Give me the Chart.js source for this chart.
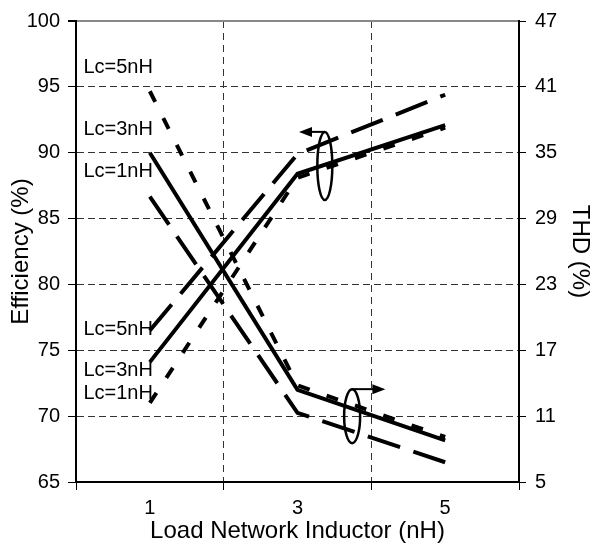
<!DOCTYPE html>
<html>
<head>
<meta charset="utf-8">
<script src="https://cdn.jsdelivr.net/npm/chart.js@4.4.0/dist/chart.umd.min.js"></script>
<style>
body { margin: 0; background: #fff; }
#wrap { width: 596px; height: 552px; }
</style>
</head>
<body>
<div id="wrap"><canvas id="myChart" width="596" height="552"></canvas></div>
<script>
// x positions (nH) and the values
const inductor = [1, 3, 5]
const effLc5 = [76.5, 89.9, 94.4]
const effLc3 = [74.1, 88.4, 92.1]
const effLc1 = [71.0, 88.1, 91.9]
const thdLc5 = [40.6, 13.8, 9.1]
const thdLc3 = [35.0, 13.4, 8.8]
const thdLc1 = [31.0, 11.3, 6.8]

const xTickLabels = [1, 3, 5]
const effTicks = [65, 70, 75, 80, 85, 90, 95, 100]
const thdTicks = [5, 11, 17, 23, 29, 35, 41, 47]

// curve names written in the plot (left efficiency scale)
const curveNames = ['Lc=5nH', 'Lc=3nH', 'Lc=1nH', 'Lc=5nH', 'Lc=3nH', 'Lc=1nH']
const curveNameY = [96.5, 91.8, 88.6, 76.6, 73.5, 71.7]
const curveNameX = 0.1

const FONT = '"Liberation Sans", Arial, sans-serif'
const longDash = [34, 14]
const shortDash = [12, 18]

function pts(vals) {
    return vals.map((v, i) => ({ x: inductor[i], y: v }))
}

function line(vals, dash, axis) {
    return {
        data: pts(vals),
        borderColor: '#000',
        borderWidth: 4,
        borderDash: dash,
        pointRadius: 0,
        tension: 0,
        fill: false,
        yAxisID: axis
    }
}

const notes = {
    id: 'notes',
    afterDatasetsDraw(chart) {
        const ctx = chart.ctx
        const x = chart.scales.x
        const y = chart.scales.y
        ctx.save()
        ctx.fillStyle = '#000'
        ctx.font = '20px ' + FONT
        ctx.textBaseline = 'middle'
        ctx.textAlign = 'left'
        curveNames.forEach((t, i) => {
            ctx.fillText(t, x.getPixelForValue(curveNameX), y.getPixelForValue(curveNameY[i]))
        })

        // rings with arrows: efficiency -> left axis, THD -> right axis
        const ring = (cx, cy, rx, ry, tipX) => {
            const px = x.getPixelForValue(cx)
            const py = y.getPixelForValue(cy)
            ctx.strokeStyle = '#000'
            ctx.lineWidth = 2.5
            ctx.beginPath()
            ctx.ellipse(px, py, rx, ry, 0, 0, Math.PI * 2)
            ctx.stroke()
            const ay = py - ry
            const tx = x.getPixelForValue(tipX)
            const dir = tx < px ? -1 : 1
            ctx.lineWidth = 2
            ctx.beginPath()
            ctx.moveTo(px, ay)
            ctx.lineTo(tx - dir * 10, ay)
            ctx.stroke()
            ctx.beginPath()
            ctx.moveTo(tx, ay)
            ctx.lineTo(tx - dir * 13, ay - 5)
            ctx.lineTo(tx - dir * 13, ay + 5)
            ctx.closePath()
            ctx.fill()
        }
        ring(3.37, 89.0, 7.5, 34, 3.02)
        ring(3.74, 70.0, 8, 27, 4.19)
        ctx.restore()
    }
}

const chart = document.getElementById('myChart')
const myChart = new Chart(chart, {
    type: 'line',
    data: {
        datasets: [
            line(effLc5, longDash, 'y'),
            line(effLc3, [], 'y'),
            line(effLc1, shortDash, 'y'),
            line(thdLc5, shortDash, 'y1'),
            line(thdLc3, [], 'y1'),
            line(thdLc1, longDash, 'y1')
        ]
    },
    options: {
        responsive: false,
        animation: false,
        layout: { padding: { top: 16, left: 0, right: 0, bottom: 0 } },
        plugins: { legend: { display: false }, tooltip: { enabled: false } },
        scales: {
            x: {
                type: 'linear',
                min: 0,
                max: 6,
                afterFit: s => { s.height = 70 },
                afterBuildTicks: s => { s.ticks = [0, 1, 2, 3, 4, 5, 6].map(v => ({ value: v })) },
                ticks: {
                    color: '#000',
                    font: { family: FONT, size: 20 },
                    padding: 6,
                    maxRotation: 0,
                    autoSkip: false,
                    callback: v => xTickLabels.includes(v) ? String(v) : ''
                },
                grid: {
                    color: c => c.tick && c.tick.value % 2 === 0 ? '#333' : 'transparent',
                    tickColor: c => c.tick && c.tick.value % 2 === 0 ? '#000' : 'transparent',
                    lineWidth: 1,
                    tickLength: 8
                },
                border: { display: true, color: '#000', width: 2, dash: [7, 5] },
                title: {
                    display: true,
                    text: 'Load Network Inductor (nH)',
                    color: '#000',
                    font: { family: FONT, size: 24 },
                    padding: { top: 0, bottom: 6 }
                }
            },
            y: {
                position: 'left',
                min: 65,
                max: 100,
                afterFit: s => { s.width = 76 },
                afterBuildTicks: s => { s.ticks = effTicks.map(v => ({ value: v })) },
                ticks: {
                    color: '#000',
                    font: { family: FONT, size: 20 },
                    padding: 8
                },
                grid: {
                    color: c => c.tick && c.tick.value === 100 ? '#888' : '#333',
                    lineWidth: c => c.tick && c.tick.value === 100 ? 2 : 1,
                    tickColor: '#000',
                    tickLength: 8
                },
                border: {
                    display: true, color: '#000', width: 2,
                    dash: c => c.tick && c.tick.value === 100 ? [] : [7, 4]
                },
                title: {
                    display: true,
                    text: 'Efficiency (%)',
                    color: '#000',
                    font: { family: FONT, size: 24 },
                    padding: { top: 7, bottom: 0 }
                }
            },
            y1: {
                position: 'right',
                min: 5,
                max: 47,
                afterFit: s => { s.width = 77 },
                afterBuildTicks: s => { s.ticks = thdTicks.map(v => ({ value: v })) },
                ticks: {
                    color: '#000',
                    font: { family: FONT, size: 20 },
                    padding: 9
                },
                grid: {
                    drawOnChartArea: false,
                    tickColor: '#000',
                    tickLength: 7
                },
                border: { display: true, color: '#000', width: 2 },
                title: {
                    display: true,
                    text: 'THD (%)',
                    color: '#000',
                    font: { family: FONT, size: 24 },
                    padding: { top: 2, bottom: 0 }
                }
            }
        }
    },
    plugins: [notes]
})
</script>
</body>
</html>
